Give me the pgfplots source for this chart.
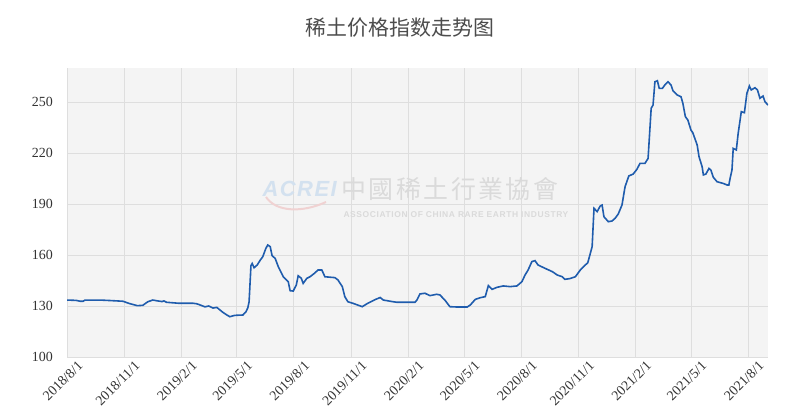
\documentclass[border=0pt]{standalone}
\usepackage{fontspec}
\setmainfont{Liberation Serif}
\newfontfamily\tnr{Liberation Serif}
\newfontfamily\cjk{Noto Sans CJK SC}
\newfontfamily\cjktc[LetterSpace=10]{Noto Sans CJK TC}
\newfontfamily\wmsans[LetterSpace=7]{Liberation Sans}
\usepackage{pgfplots}
\pgfplotsset{compat=1.18}
\definecolor{lineblue}{HTML}{1F5CAD}
\definecolor{bgc}{HTML}{F4F4F4}
\definecolor{gridc}{HTML}{DEDEDE}
\definecolor{txt}{HTML}{333333}
\definecolor{wm}{HTML}{DADADA}
\definecolor{wmblue}{HTML}{D3E1EF}
\definecolor{wmred}{HTML}{F0D2D2}

% days since 2018/8/1, index value
\pgfplotstableread{
d v
0 133.5
15 133.3
21 132.8
26 132.8
29 133.5
53 133.5
70 133.2
90 132.8
100 131.5
113 130.2
122 130.4
130 132.5
138 133.5
146 133.0
153 132.6
156 133.0
160 132.2
180 131.6
203 131.6
209 131.3
215 130.5
222 129.5
228 130.0
235 128.8
241 129.2
250 126.5
256 125.0
262 123.7
270 124.5
283 124.7
288 126.6
291 129.0
293 132.5
296 153.7
298 155.0
301 152.5
306 154.1
311 157.0
315 159.0
320 163.9
323 165.9
327 164.9
330 159.6
335 158.0
340 153.1
348 147.2
356 144.3
359 139.0
364 138.8
369 142.4
372 147.8
377 146.3
380 143.3
386 146.3
391 147.2
398 149.2
404 151.2
410 151.2
415 147.2
431 146.7
436 145.3
443 141.4
447 135.5
452 132.5
460 131.6
475 129.6
484 131.6
496 133.8
504 135.0
509 133.5
517 133.0
525 132.5
531 132.2
560 132.2
563 133.5
568 137.1
576 137.5
584 136.1
595 136.9
600 136.5
608 133.5
616 129.6
628 129.4
644 129.4
649 130.6
657 133.9
665 134.9
673 135.5
678 142.0
684 139.8
692 141.0
702 141.8
713 141.4
724 141.8
732 144.3
737 148.2
742 151.2
748 156.1
753 156.7
758 154.1
769 152.2
781 150.2
789 148.2
797 147.2
801 145.7
809 146.1
818 147.2
826 151.2
834 154.1
838 155.5
845 164.9
848 187.5
853 185.5
858 188.8
861 189.4
864 182.5
871 179.6
877 180.0
882 181.6
887 184.1
893 189.4
898 200.2
904 206.5
911 207.6
917 210.4
922 213.9
930 213.9
935 216.8
940 246.3
943 248.2
946 261.9
950 262.5
953 258.0
958 258.0
962 260.0
967 261.9
972 260.0
975 256.7
982 254.1
988 253.1
991 249.2
995 241.4
999 239.4
1004 233.5
1007 231.9
1014 224.7
1017 217.8
1022 211.9
1024 207.1
1028 207.6
1033 210.9
1036 210.0
1040 205.7
1046 203.1
1056 202.1
1062 201.2
1065 201.2
1067 205.1
1070 210.0
1072 222.7
1077 221.8
1080 231.6
1085 244.3
1090 243.7
1094 255.1
1098 259.4
1101 257.1
1107 258.4
1111 257.1
1115 252.2
1120 253.5
1123 250.2
1128 248.2
}\rareearth

\begin{document}
\begin{tikzpicture}[x=1bp,y=1bp]
\begin{axis}[
    at={(67bp,62bp)}, anchor=south west,
    scale only axis, width=701bp, height=289bp,
    xmin=0, xmax=1128, ymin=100, ymax=270,
    ytick={100,130,160,190,220,250},
    xtick={0,92,184,273,365,457,549,639,731,823,915,1004,1096},
    xticklabels={2018/8/1,2018/11/1,2019/2/1,2019/5/1,2019/8/1,2019/11/1,2020/2/1,2020/5/1,2020/8/1,2020/11/1,2021/2/1,2021/5/1,2021/8/1},
    grid=major,
    major grid style={draw=gridc, line width=0.8bp},
    axis background/.style={fill=bgc},
    axis line style={draw=none},
    tick style={draw=none},
    /pgf/number format/assume math mode=true,
    yticklabel style={font=\tnr\fontsize{14}{16}\selectfont, text=txt, inner sep=0pt, xshift=-14bp},
    xticklabel style={font=\tnr\fontsize{14}{16}\selectfont, text=txt, rotate=45, anchor=north east, inner sep=0pt, xshift=5bp, yshift=-9bp},
]
\addplot[lineblue, line width=1.6bp, mark=none] table[x=d, y=v] {\rareearth};
\end{axis}
% title
\node[font=\cjk\fontsize{21}{24}\selectfont, text=black!70] at (400,391) {稀土价格指数走势图};
% watermark
\draw[wmred, line width=2bp] (266,222) .. controls (276,207) and (302,206) .. (326,217);
\node[font=\wmsans\bfseries\itshape\fontsize{22}{24}\selectfont, text=wmblue, anchor=west] at (259,230) {ACREI};
\node[font=\cjktc\fontsize{25}{28}\selectfont, text=wm, anchor=west] at (338,230) {中國稀土行業協會};
\node[font=\wmsans\bfseries\fontsize{8.5}{10}\selectfont, text=wm, anchor=west] at (340,204) {ASSOCIATION OF CHINA RARE EARTH INDUSTRY};
\pgfresetboundingbox
\path[use as bounding box] (0,0) rectangle (800,419);
\end{tikzpicture}
\end{document}
